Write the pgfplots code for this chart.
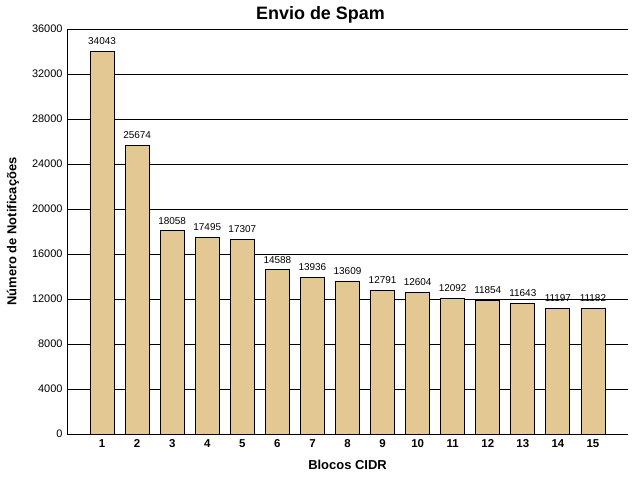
\documentclass[border=0pt]{standalone}
\usepackage{pgfplots}
\pgfplotsset{compat=1.18}
\usepackage{fontspec}
\setmainfont{Liberation Sans}
\definecolor{barfill}{RGB}{228,200,148}
\begin{document}
\begin{tikzpicture}
\begin{axis}[
  scale only axis,
  width=561bp, height=405bp,
  xmin=0, xmax=16,
  ymin=0, ymax=36000,
  ytick={0,4000,...,36000},
  xtick={1,...,15},
  axis x line*=bottom,
  axis y line*=left,
  axis line style={black, line width=1pt},
  major tick length=0pt,
  ymajorgrids,
  grid style={black, line width=0.8pt},
  /pgf/number format/assume math mode=true,
  /pgf/number format/set thousands separator={},
  yticklabel style={font=\fontsize{11}{13}\selectfont, xshift=-1bp},
  xticklabel style={font=\bfseries\fontsize{11.5}{13}\selectfont, yshift=-2bp},
  scaled y ticks=false,
  title={\bfseries\fontsize{18}{20}\selectfont Envio de Spam},
  title style={yshift=-4bp, xshift=-27bp},
  xlabel={\bfseries\fontsize{13}{15}\selectfont Blocos CIDR},
  ylabel={\bfseries\fontsize{13}{15}\selectfont Número de Notificações},
  xlabel style={yshift=-6bp},
  ylabel style={yshift=6bp},
  nodes near coords,
  every node near coord/.append style={font=\fontsize{10}{12}\selectfont, yshift=3bp},
  clip=false,
]
\addplot[ybar, bar width=24bp, fill=barfill, draw=black, line width=0.8pt] coordinates {
(1,34043) (2,25674) (3,18058) (4,17495) (5,17307) (6,14588) (7,13936) (8,13609)
(9,12791) (10,12604) (11,12092) (12,11854) (13,11643) (14,11197) (15,11182)
};
\end{axis}
\pgfresetboundingbox
\path (current axis.south west) ++(-67bp,-46bp) rectangle ++(640bp,480bp);
\end{tikzpicture}
\end{document}
